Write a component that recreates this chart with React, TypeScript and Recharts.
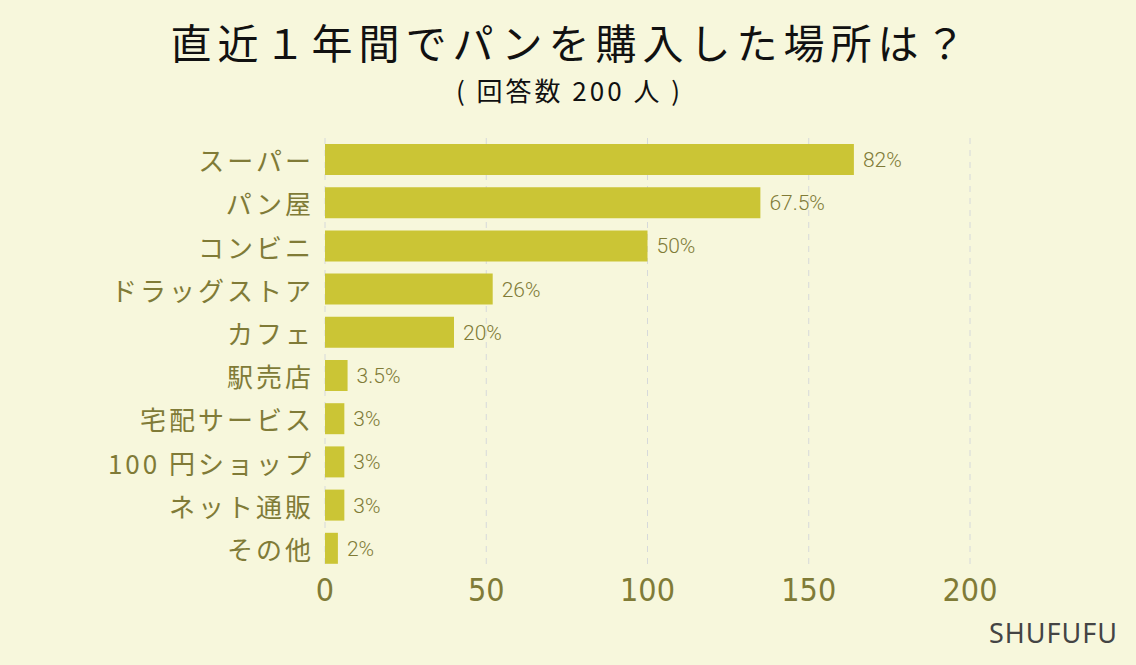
import React from "react";
import { BarChart, Bar, XAxis, YAxis, CartesianGrid, LabelList } from "recharts";

const categories = ["スーパー", "パン屋", "コンビニ", "ドラッグストア", "カフェ", "駅売店", "宅配サービス", "100 円ショップ", "ネット通販", "その他"];
const counts = [164, 135, 100, 52, 40, 7, 6, 6, 6, 4];
const percentLabels = ["82%", "67.5%", "50%", "26%", "20%", "3.5%", "3%", "3%", "3%", "2%"];
const xTicks = [0, 50, 100, 150, 200];

const data = categories.map((name, i) => ({ name, value: counts[i], label: percentLabels[i] }));

const BG = "#F7F7DC";
const BAR = "#CBC535";
const OLIVE = "#807B37";
const FONT = "'Noto Sans CJK JP', 'Noto Sans', sans-serif";

const XTick = (props: any) => {
  const { x, y, payload } = props;
  return (
    <text x={x} y={y} dy={12} textAnchor="middle" dominantBaseline="central" fill={OLIVE}
      fontFamily="'Liberation Sans Narrow', 'DejaVu Sans Condensed', sans-serif" fontSize={32}>
      {payload.value}
    </text>
  );
};

const YTick = (props: any) => {
  const { x, y, payload } = props;
  return (
    <text x={x} y={y} textAnchor="end" dominantBaseline="central" fill={OLIVE}
      fontFamily={FONT} fontSize={26} letterSpacing={3}>
      {payload.value}
    </text>
  );
};

export default function App() {
  return (
    <div style={{ position: "absolute", left: 0, top: 0, width: 1136, height: 665, background: BG, overflow: "hidden" }}>
      <div style={{ position: "absolute", left: 0, top: 19, width: 1136, textAlign: "center", fontFamily: FONT, fontSize: 41, lineHeight: "44px", letterSpacing: 6, paddingLeft: 6, boxSizing: "border-box", color: "#111" }}>
        直近１年間でパンを購入した場所は？
      </div>
      <div style={{ position: "absolute", left: 0, top: 75, width: 1136, textAlign: "center", fontFamily: FONT, fontSize: 26, lineHeight: "30px", letterSpacing: 3, paddingLeft: 3, boxSizing: "border-box", color: "#111" }}>
        ( 回答数 200 人 )
      </div>
      <div style={{ position: "absolute", right: 18, top: 616, fontFamily: "'Noto Sans', sans-serif", fontSize: 27, lineHeight: "34px", letterSpacing: 1, color: "#444" }}>
        SHUFUFU
      </div>
      <div style={{ position: "absolute", left: 0, top: 0 }}>
        <BarChart width={1136} height={665} data={data} layout="vertical"
          margin={{ top: 138, right: 166, bottom: 55, left: 25 }} barCategoryGap={12}>
          <CartesianGrid horizontal={false} vertical={true} stroke="#D6D9DA" strokeDasharray="6 6" />
          <XAxis type="number" domain={[0, 200]} ticks={xTicks} axisLine={false} tickLine={false}
            height={40} tick={<XTick />} interval={0} />
          <YAxis type="category" dataKey="name" width={300} axisLine={false} tickLine={false}
            tick={<YTick />} interval={0} tickMargin={5} />
          <Bar dataKey="value" fill={BAR} isAnimationActive={false} barSize={31}>
            <LabelList dataKey="label" position="right" offset={9} fill={OLIVE}
              fontFamily="Roboto, 'Noto Sans', sans-serif" fontWeight={300} fontSize={21} />
          </Bar>
        </BarChart>
      </div>
    </div>
  );
}
